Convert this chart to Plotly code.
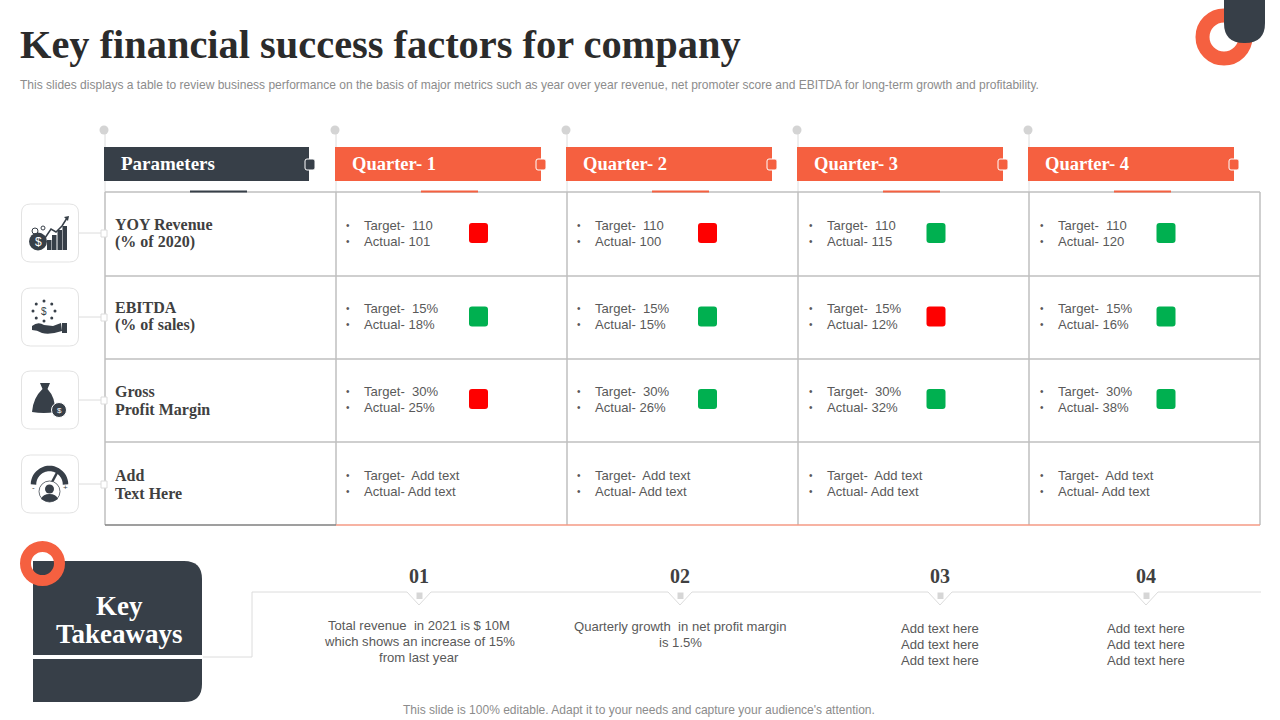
"""
Key financial success factors table, drawn as a slide with Plotly shapes
"""
import numpy as np
import plotly.graph_objects as go

TITLE = "Key financial success factors for company"
SUBTITLE = ("This slides displays a table to review business performance on the basis of major metrics "
            "such as year over year revenue, net promoter score and EBITDA for long-term growth and profitability.")
FOOTER = "This slide is 100% editable. Adapt it to your needs and capture your audience's attention."

quarters = ["Quarter- 1", "Quarter- 2", "Quarter- 3", "Quarter- 4"]
parameters = [["YOY Revenue", "(% of 2020)"], ["EBITDA", "(% of sales)"],
              ["Gross", "Profit Margin"], ["Add", "Text Here"]]

targets = [["110", "110", "110", "110"],
           ["15%", "15%", "15%", "15%"],
           ["30%", "30%", "30%", "30%"],
           ["Add text", "Add text", "Add text", "Add text"]]
actuals = [["101", "100", "115", "120"],
           ["18%", "15%", "12%", "16%"],
           ["25%", "26%", "32%", "38%"],
           ["Add text", "Add text", "Add text", "Add text"]]
status = [["red", "red", "green", "green"],
          ["green", "green", "red", "green"],
          ["red", "green", "green", "green"],
          [None, None, None, None]]

takeaway_nums = ["01", "02", "03", "04"]
takeaways = [["Total revenue  in 2021 is $ 10M", "which shows an increase of 15%", "from last year"],
             ["Quarterly growth  in net profit margin", "is 1.5%"],
             ["Add text here", "Add text here", "Add text here"],
             ["Add text here", "Add text here", "Add text here"]]

# slide geometry, in pixels
DARK = "#373f48"
ORANGE = "#f56040"
GREY = "#595959"
LINE = "#bfbfbf"
PALE = "#dcdcdc"
STATUS_COL = {"red": "#fe0000", "green": "#00b050"}
col_x = [105, 336, 567, 798, 1029, 1260]
row_y = [192, 276, 359, 442, 525]
line1_y = [225.5, 308.5, 391.5, 475.5]
label_y = [[224, 242], [307, 325], [391.5, 409.5], [475, 493]]
box_y = [204, 288, 371, 455]
bullet_x = [347, 578, 810, 1041]
square_x = [478.5, 707.5, 936, 1166]
square_y = [233, 316.5, 399]
takeaway_x = [419, 680, 940, 1146]
takeaway_y = [625, 626, 628, 628]

SERIF = "Liberation Serif"
SANS = "Liberation Sans"

shapes = []
notes = []


def rounded(x0, y0, x1, y1, tl=0, tr=0, br=0, bl=0):
    return (f"M{x0+tl},{y0} L{x1-tr},{y0} Q{x1},{y0} {x1},{y0+tr} L{x1},{y1-br} Q{x1},{y1} {x1-br},{y1} "
            f"L{x0+bl},{y1} Q{x0},{y1} {x0},{y1-bl} L{x0},{y0+tl} Q{x0},{y0} {x0+tl},{y0} Z")


def path(d, fill=None, line=None, width=0):
    shapes.append(dict(type="path", path=d, fillcolor=fill if fill else "rgba(0,0,0,0)",
                       line=dict(color=line if line else "rgba(0,0,0,0)", width=width)))


def rect(x0, y0, x1, y1, fill, line=None, width=0):
    shapes.append(dict(type="rect", x0=x0, y0=y0, x1=x1, y1=y1, fillcolor=fill,
                       line=dict(color=line if line else "rgba(0,0,0,0)", width=width)))


def seg(x0, y0, x1, y1, color=LINE, width=1.5):
    shapes.append(dict(type="line", x0=x0, y0=y0, x1=x1, y1=y1, line=dict(color=color, width=width)))


def circle(cx, cy, r, fill=None, line=None, width=0):
    shapes.append(dict(type="circle", x0=cx-r, y0=cy-r, x1=cx+r, y1=cy+r,
                       fillcolor=fill if fill else "rgba(0,0,0,0)",
                       line=dict(color=line if line else "rgba(0,0,0,0)", width=width)))


def text(x, y, s, size=13.1, color=GREY, font=SANS, anchor="left"):
    # annotations carry about 2px of padding on the left
    x = x - 2 if anchor == "left" else x
    notes.append(dict(x=x, y=y, text=s, showarrow=False, xanchor=anchor, yanchor="middle",
                      font=dict(family=font, size=size, color=color)))


# top right ornament
circle(1224, 37, 21.5, line=ORANGE, width=14)
path(rounded(1224, -5, 1265, 43, 0, 0, 20, 20), fill=DARK)

text(20, 44.5, "<b>" + TITLE + "</b>", size=40.4, color="#2b2b2b", font=SERIF)
text(20, 85, SUBTITLE, size=12.03, color="#8c8c8c")

# pins above the header bars
for x in col_x[:5]:
    px = x - 1
    seg(px + 1, 130, px + 1, 192, color=PALE, width=1)
    circle(px, 130, 4.5, fill="#d4d4d4")

# table grid
for y in row_y[:-1]:
    seg(col_x[0], y, col_x[-1], y)
for x in col_x:
    seg(x, row_y[0], x, row_y[-1])
seg(col_x[0], row_y[-1], col_x[1], row_y[-1], color="#7f7f7f")
seg(col_x[1], row_y[-1], col_x[-1], row_y[-1], color="#f59a85")

# header bars
rect(104, 147, 309, 181, DARK)
seg(190, 191.5, 247, 191.5, color=DARK, width=2)
path(rounded(305, 159, 315, 170, 2, 2, 2, 2), fill=DARK, line="white", width=1)
text(121, 163.5, "<b>Parameters</b>", size=19, color="white", font=SERIF)
for i, q in enumerate(quarters):
    x0 = col_x[i + 1] - 1
    rect(x0, 147, x0 + 206, 181, ORANGE)
    seg(x0 + 86, 191.5, x0 + 143, 191.5, color=ORANGE, width=2)
    path(rounded(x0 + 201, 159, x0 + 211, 170, 2, 2, 2, 2), fill=ORANGE, line="white", width=1)
    text(x0 + 17, 163.5, "<b>" + q + "</b>", size=18.5, color="white", font=SERIF)

# row labels, icon boxes and connectors
for r, lab in enumerate(parameters):
    text(115, label_y[r][0], "<b>" + lab[0] + "</b>", size=16, color="#404040", font=SERIF)
    text(115, label_y[r][1], "<b>" + lab[1] + "</b>", size=16, color="#404040", font=SERIF)
    by = box_y[r]
    path(rounded(21.5, by, 78.5, by + 58, 9, 9, 9, 9), fill="white", line="#e3e3e3", width=1)
    seg(79, by + 29, 104, by + 29, color=PALE, width=1)
    rect(101, by + 26, 107, by + 33, "white", line=PALE, width=1)

# table cells
for r in range(len(parameters)):
    for c in range(len(quarters)):
        y1 = line1_y[r]
        text(bullet_x[c] - 1.5, y1, "•", size=10)
        text(bullet_x[c] - 1.5, y1 + 16, "•", size=10)
        text(bullet_x[c] + 17, y1, "Target- " + " " + targets[r][c])
        text(bullet_x[c] + 17, y1 + 16, "Actual- " + actuals[r][c])
        if status[r][c]:
            sx, sy = square_x[c], square_y[r]
            path(rounded(sx - 9.5, sy - 10, sx + 9.5, sy + 10, 3, 3, 3, 3), fill=STATUS_COL[status[r][c]])

# icon 1: coin, bars and rising arrow
for bx, top in zip([47, 52, 57.5, 62.5], [240, 235, 230, 226]):
    rect(bx, top, bx + 4.5, 250, DARK)
circle(38, 241.5, 9, fill=DARK)
text(38, 241.5, "$", size=12, color="white", anchor="center")
circle(35, 231, 3, line=DARK, width=1)
circle(43, 228, 2, line=DARK, width=1)
path("M45,238 L51,229 L56,232 L62,226 L67,218", line=DARK, width=1.5)
path("M64,217 L69,216 L68,221 Z", fill=DARK)

# icon 2: hand under scattered coins
for a in np.deg2rad(np.arange(0, 360, 45)):
    circle(44 + 11 * np.cos(a), 311 + 10 * np.sin(a), 1.5, fill=DARK)
text(44, 311, "$", size=10, color=DARK, anchor="center")
path("M32,326 Q38,321 44,325 L53,326 L61,323 L62,331 Q50,335 42,333 Q37,330 32,330 Z", fill=DARK)
rect(62, 323, 67, 333, DARK)

# icon 3: money bag with coin
path("M40,383 L50,383 L47.5,389 Q56,398 55,412 Q44,414 32,412 Q33,398 42.5,389 Z", fill=DARK)
circle(59, 410, 7.5, fill=DARK, line="white", width=1)
text(59, 410, "$", size=8, color="white", anchor="center")

# icon 4: gauge and person
a = np.deg2rad(np.linspace(180, 360, 25))
gauge = "M" + " L".join(f"{49.5 + 16 * np.cos(t):.1f},{484.5 + 16 * np.sin(t):.1f}" for t in a)
path(gauge, line=DARK, width=5.5)
path("M51,484 L59,469", line=DARK, width=2.5)
circle(49.5, 491.5, 10.5, fill="white", line=DARK, width=0.75)
circle(49.5, 489, 4.5, fill=DARK)
path("M41,499 Q43,494 49.5,494 Q56,494 58,499 Q50,505 41,499 Z", fill=DARK)
text(33, 487, "-", size=8, color=DARK, anchor="center")
text(65.5, 487, "+", size=8, color=DARK, anchor="center")

# key takeaways panel
path(rounded(33, 561, 202, 702, 0, 18, 18, 0), fill=DARK)
rect(33, 655, 203, 659, "white")
circle(42.5, 563.5, 17, line=ORANGE, width=11)
text(119, 605.5, "<b>Key</b>", size=27, color="white", font=SERIF, anchor="center")
text(119, 633.5, "<b>Takeaways</b>", size=27, color="white", font=SERIF, anchor="center")

# connector running along the takeaways
seg(203, 657, 252, 657, color=PALE, width=1)
seg(252, 657, 252, 592, color=PALE, width=1)
prev = 252
for x in takeaway_x:
    seg(prev, 592, x - 12, 592, color=PALE, width=1)
    path(f"M{x-12},592 L{x},605 L{x+12},592", line=PALE, width=1)
    rect(x - 2.5, 592.5, x + 3.5, 599, "#d6d6d6")
    prev = x + 12
seg(prev, 592, 1261, 592, color=PALE, width=1)

for i, lines in enumerate(takeaways):
    x = takeaway_x[i]
    text(x, 575.5, "<b>" + takeaway_nums[i] + "</b>", size=20, color="#404040", font=SERIF, anchor="center")
    for j, s in enumerate(lines):
        text(x, takeaway_y[i] + 16 * j, s, anchor="center")

text(639, 710, FOOTER, size=12.03, color="#8c8c8c", anchor="center")

fig = go.Figure()
fig.update_layout(
    width=1280, height=720, margin=dict(l=0, r=0, t=0, b=0),
    paper_bgcolor="white", plot_bgcolor="white", showlegend=False,
    xaxis=dict(range=[0, 1280], visible=False),
    yaxis=dict(range=[720, 0], visible=False),
    shapes=shapes, annotations=notes)

fig.write_html("out.html", config={"displayModeBar": False},
               post_script="document.body.style.margin='0';")
